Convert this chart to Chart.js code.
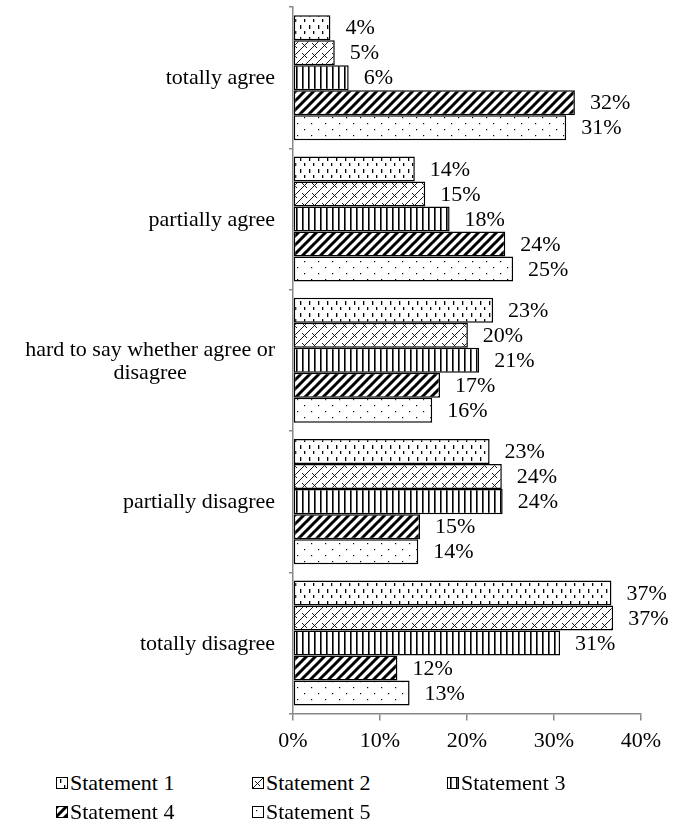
<!DOCTYPE html>
<html>
<head>
<meta charset="utf-8">
<script src="https://cdn.jsdelivr.net/npm/chart.js@4.4.0/dist/chart.umd.min.js"></script>
<style>
  body { margin: 0; background: #fff; }
  #wrap { position: relative; width: 688px; height: 827px; }
  #chart { position: absolute; left: 0; top: 0; }
  #legend {
    position: absolute; left: 56px; top: 768px;
    display: grid; grid-template-columns: 196px 195px 195px; grid-auto-rows: 29px;
    font: 22px "Liberation Serif", serif; color: #000;
  }
  .item { display: flex; align-items: center; white-space: nowrap; }
  .item canvas { border: 1.5px solid #000; margin-right: 2px; }
</style>
</head>
<body>
<div id="wrap">
  <canvas id="chart" width="688" height="768"></canvas>
  <div id="legend"></div>
</div>
<script>
const categories = [
  "totally agree",
  "partially agree",
  ["hard to say whether agree or", "disagree"],
  "partially disagree",
  "totally disagree"
];
const seriesNames = ["Statement 1", "Statement 2", "Statement 3", "Statement 4", "Statement 5"];

// values in %
const statement1 = [4.3, 14.0, 23.0, 22.6, 36.6];
const statement2 = [4.8, 15.2, 20.1, 24.0, 36.8];
const statement3 = [6.4, 18.0, 21.4, 24.1, 30.7];
const statement4 = [32.4, 24.4, 16.9, 14.6, 12.0];
const statement5 = [31.4, 25.3, 16.0, 14.4, 13.4];

const xTicks = [0, 10, 20, 30, 40];

const FONT = '"Liberation Serif"';

// ---- hatch patterns ----
function makeTile(w, h, draw) {
  const c = document.createElement("canvas");
  c.width = w; c.height = h;
  const g = c.getContext("2d");
  g.fillStyle = "#fff";
  g.fillRect(0, 0, w, h);
  g.fillStyle = "#000";
  g.strokeStyle = "#000";
  draw(g);
  return c;
}

const tiles = [
  // short vertical dashes
  makeTile(9, 12, g => {
    g.fillRect(3, 1, 1.3, 4);
    g.fillRect(7, 7, 1.3, 3);
  }),
  // diagonal weave
  makeTile(10, 10, g => {
    g.lineWidth = 0.9;
    g.beginPath();
    g.moveTo(0, 10); g.lineTo(10, 0);
    g.moveTo(-5, 5); g.lineTo(5, -5);
    g.moveTo(5, 15); g.lineTo(15, 5);
    g.moveTo(2, 3); g.lineTo(7, 8);
    g.stroke();
  }),
  // vertical lines
  makeTile(6, 6, g => {
    g.fillRect(2, 0, 1.6, 6);
  }),
  // thick forward diagonals
  makeTile(9, 9, g => {
    g.lineWidth = 3;
    g.beginPath();
    g.moveTo(-1, 10); g.lineTo(10, -1);
    g.moveTo(-5, 5); g.lineTo(5, -5);
    g.moveTo(4, 14); g.lineTo(14, 4);
    g.stroke();
  }),
  // sparse dots
  makeTile(14, 12, g => {
    g.fillRect(3, 3, 1.2, 1.2);
    g.fillRect(10, 9, 1.2, 1.2);
  })
];

const ctx = document.getElementById("chart").getContext("2d");
const patterns = tiles.map(t => ctx.createPattern(t, "repeat"));

const seriesData = [statement1, statement2, statement3, statement4, statement5];

// value labels to the right of each bar
const valueLabels = {
  id: "valueLabels",
  afterDatasetsDraw(chart) {
    const c = chart.ctx;
    c.save();
    c.font = "22px " + FONT;
    c.fillStyle = "#000";
    c.textAlign = "left";
    c.textBaseline = "middle";
    chart.data.datasets.forEach((ds, i) => {
      chart.getDatasetMeta(i).data.forEach((bar, j) => {
        c.fillText(Math.round(ds.data[j]) + "%", bar.x + 15, bar.y + 1);
      });
    });
    c.restore();
  }
};

// category labels: single lines right aligned, wrapped label centred
const categoryLabels = {
  id: "categoryLabels",
  afterDraw(chart) {
    const c = chart.ctx;
    const y = chart.scales.y;
    const right = y.right - 18;
    c.save();
    c.font = "22px " + FONT;
    c.fillStyle = "#000";
    c.textBaseline = "middle";
    chart.data.labels.forEach((lab, i) => {
      const cy = y.getPixelForTick(i) + 1;
      if (Array.isArray(lab)) {
        const w = Math.max(...lab.map(s => c.measureText(s).width));
        c.textAlign = "center";
        const lh = 23;
        lab.forEach((s, k) => {
          c.fillText(s, right - w / 2, cy + (k - (lab.length - 1) / 2) * lh);
        });
      } else {
        c.textAlign = "right";
        c.fillText(lab, right, cy);
      }
    });
    c.restore();
  }
};

new Chart(ctx, {
  type: "bar",
  data: {
    labels: categories,
    datasets: seriesData.map((d, i) => ({
      label: seriesNames[i],
      data: d,
      backgroundColor: patterns[i],
      borderColor: "#000",
      borderWidth: 1.5,
      borderSkipped: false,
      barPercentage: 1,
      categoryPercentage: 0.885
    }))
  },
  options: {
    indexAxis: "y",
    responsive: false,
    animation: false,
    devicePixelRatio: 1,
    layout: { padding: { top: 7, right: 47, left: 0, bottom: 7 } },
    plugins: { legend: { display: false }, tooltip: { enabled: false } },
    scales: {
      x: {
        min: 0, max: 40,
        afterBuildTicks: s => { s.ticks = xTicks.map(v => ({ value: v })); },
        grid: { display: true, drawOnChartArea: false, drawTicks: true, tickLength: 7, color: "#888", lineWidth: 1.5 },
        border: { display: true, color: "#888", width: 1.5 },
        ticks: {
          padding: 7,
          color: "#000",
          font: { family: "Liberation Serif", size: 22 },
          callback: v => v + "%"
        }
      },
      y: {
        afterFit: s => { s.width = 293; s.paddingTop = 0; s.paddingBottom = 0; },
        grid: { display: true, offset: true, drawOnChartArea: false, drawTicks: true, tickLength: 4, color: "#888", lineWidth: 1.5 },
        border: { display: true, color: "#888", width: 1.5 },
        ticks: { display: false }
      }
    }
  },
  plugins: [valueLabels, categoryLabels]
});

// legend
const legend = document.getElementById("legend");
seriesNames.forEach((name, i) => {
  const item = document.createElement("div");
  item.className = "item";
  const sw = document.createElement("canvas");
  sw.width = 10; sw.height = 10;
  const sctx = sw.getContext("2d");
  sctx.fillStyle = sctx.createPattern(tiles[i], "repeat");
  sctx.fillRect(0, 0, 10, 10);
  item.appendChild(sw);
  item.appendChild(document.createTextNode(name));
  legend.appendChild(item);
});
</script>
</body>
</html>
